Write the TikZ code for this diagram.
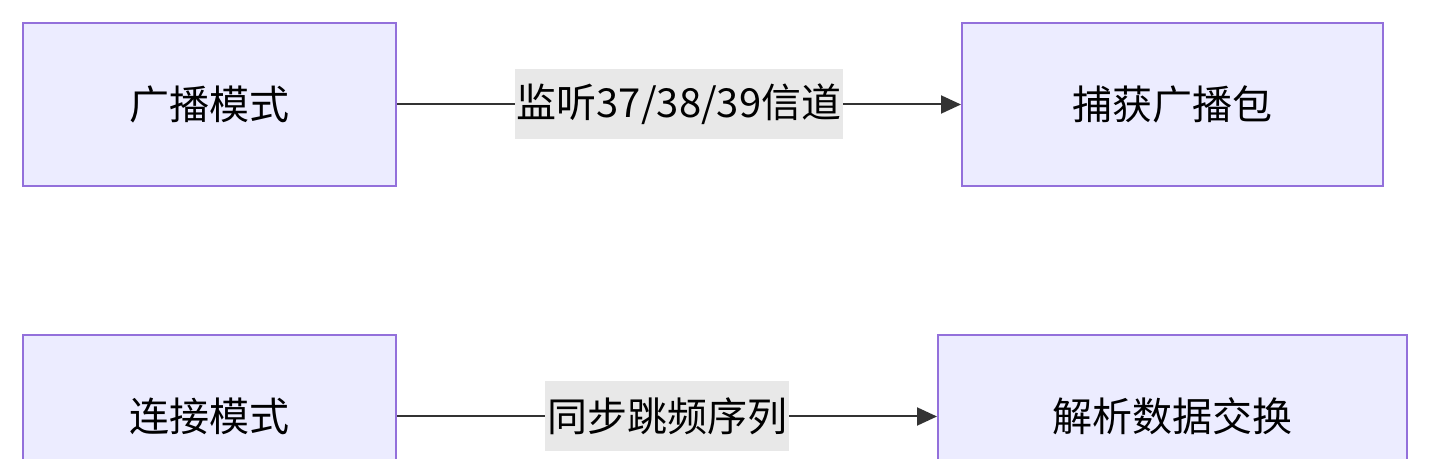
\documentclass[tikz,border=0pt]{standalone}
\usepackage{fontspec}
\setmainfont{Noto Sans CJK SC}
\definecolor{boxfill}{HTML}{ECECFF}
\definecolor{boxline}{HTML}{9370DB}
\definecolor{lblfill}{HTML}{E8E8E8}
\definecolor{edgeline}{HTML}{333333}
\usetikzlibrary{arrows.meta}
\tikzset{
  mode/.style={draw=boxline,fill=boxfill,line width=1pt,minimum height=81.5pt,
    font=\fontsize{20}{24}\selectfont,inner sep=0pt},
  link/.style={draw=edgeline,line width=1pt,-{Triangle[length=10pt,width=9pt]}},
  lbl/.style={fill=lblfill,font=\fontsize{20}{24}\selectfont,inner sep=1pt,minimum height=35pt}
}
\begin{document}
\begin{tikzpicture}[x=0.5pt,y=-0.5pt]
  \useasboundingbox (0,0) rectangle (1431,459);
  \clip (0,0) rectangle (1431,459);
  % top row
  \node[mode,minimum width=186.5pt] (adv) at (209.5,104.5) {广播模式};
  \node[mode,minimum width=210.5pt] (cap) at (1172.5,104.5) {捕获广播包};
  \draw[link] (adv) -- node[lbl] {监听37/38/39信道} (cap);
  % bottom row
  \node[mode,minimum width=186.5pt] (conn) at (209.5,416.5) {连接模式};
  \node[mode,minimum width=234.5pt] (parse) at (1172.5,416.5) {解析数据交换};
  \draw[link] (conn) -- node[lbl] {同步跳频序列} (parse);
\end{tikzpicture}
\end{document}
